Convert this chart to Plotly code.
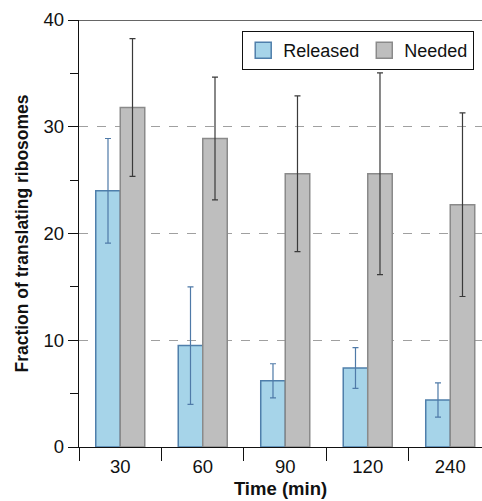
import plotly.graph_objects as go

times = ["30", "60", "90", "120", "240"]
released = [24.0, 9.5, 6.2, 7.4, 4.4]
released_err = [4.9, 5.5, 1.6, 1.9, 1.6]
needed = [31.8, 28.9, 25.6, 25.6, 22.7]
needed_err = [6.45, 5.75, 7.3, 9.45, 8.6]
y_ticks = [0, 10, 20, 30, 40]

FONT = "Liberation Sans, Arial, Helvetica, sans-serif"
REL_FILL, REL_LINE, REL_ERR = "#a6d4e9", "#4f7fab", "#4f7aa8"
NEED_FILL, NEED_LINE, NEED_ERR = "#bebebe", "#8a8a8a", "#3a3a3a"

fig = go.Figure()
fig.add_trace(go.Bar(
    name="Released", x=times, y=released, showlegend=False,
    marker=dict(color=REL_FILL, line=dict(color=REL_LINE, width=1.5)),
    error_y=dict(type="data", array=released_err, color=REL_ERR, thickness=1.2, width=3),
))
fig.add_trace(go.Bar(
    name="Needed", x=times, y=needed, showlegend=False,
    marker=dict(color=NEED_FILL, line=dict(color=NEED_LINE, width=1.5)),
    error_y=dict(type="data", array=needed_err, color=NEED_ERR, thickness=1.2, width=3),
))
# legend proxies (larger square swatches)
for name, fill, line in [("Released", REL_FILL, REL_LINE), ("Needed", NEED_FILL, NEED_LINE)]:
    fig.add_trace(go.Scatter(
        name=name, x=[None], y=[None], mode="markers", showlegend=True,
        marker=dict(symbol="square", size=16, color=fill, line=dict(color=line, width=1.5)),
    ))

fig.update_layout(
    width=482, height=501,
    margin=dict(l=79, r=0, t=20, b=54),
    paper_bgcolor="white", plot_bgcolor="white",
    barmode="group", bargap=0.406, bargroupgap=0,
    font=dict(family=FONT, size=18, color="#111"),
    legend=dict(
        orientation="h", x=0.405, y=0.974, xanchor="left", yanchor="top",
        bordercolor="#111", borderwidth=1, bgcolor="white",
        font=dict(size=18), itemsizing="trace",
    ),
    xaxis=dict(
        type="category", range=[-0.5, 4.385],
        tickson="boundaries", ticks="outside", ticklen=13, tickcolor="#111",
        showline=True, linecolor="#111", linewidth=1.3,
        showgrid=False, ticklabelstandoff=3,
        title=dict(text="<b>Time (min)</b>", font=dict(size=18.5), standoff=5),
        tickfont=dict(size=18.5),
    ),
    yaxis=dict(
        range=[0, 40], tickvals=y_ticks, ticks="outside", ticklen=10, tickcolor="#111",
        showline=True, linecolor="#111", linewidth=1.3,
        showgrid=True, gridcolor="#a0a0a0", griddash="dash", gridwidth=1,
        zeroline=False,
        minor=dict(dtick=5, ticks="outside", ticklen=8, tickcolor="#111", showgrid=False),
        title=dict(text="<b>Fraction of translating ribosomes</b>", font=dict(size=17.5), standoff=10),
        tickfont=dict(size=18.5),
    ),
)

fig.add_shape(type="line", xref="paper", yref="y", x0=0, x1=1, y0=40, y1=40,
              line=dict(color="#333", width=1.3))

fig.write_html("out.html")
